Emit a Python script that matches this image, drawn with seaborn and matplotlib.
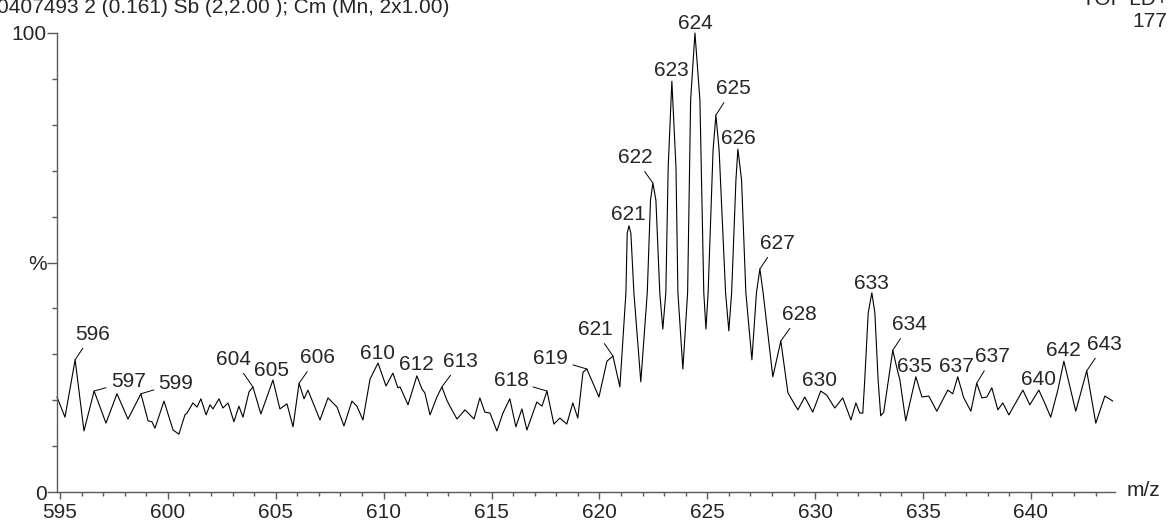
import numpy as np
import matplotlib
matplotlib.use("Agg")
import matplotlib.pyplot as plt
from matplotlib.ticker import MultipleLocator, FixedLocator
import seaborn as sns

# spectrum trace (m/z, % intensity)
mz = [
    594.86, 595.23, 595.70, 596.11, 596.58, 597.13, 597.64, 598.15, 598.75, 599.08,
    599.26, 599.40, 599.82, 600.24, 600.51, 600.79, 600.89, 601.16, 601.35, 601.53,
    601.77, 601.95, 602.09, 602.37, 602.55, 602.79, 603.06, 603.29, 603.48, 603.76,
    603.94, 604.31, 604.87, 605.19, 605.52, 605.80, 606.08, 606.31, 606.49, 607.05,
    607.42, 607.84, 608.16, 608.53, 608.76, 609.04, 609.37, 609.74, 610.11, 610.43,
    610.66, 610.76, 611.13, 611.54, 611.78, 611.91, 612.15, 612.47, 612.70, 612.93,
    613.07, 613.40, 613.77, 614.00, 614.19, 614.46, 614.69, 614.93, 615.25, 615.53,
    615.85, 616.13, 616.41, 616.64, 617.10, 617.34, 617.57, 617.89, 618.17, 618.49,
    618.77, 619.00, 619.24, 619.42, 619.98, 620.35, 620.63, 620.95,
    621.23, 621.29, 621.37, 621.46, 621.60, 621.92,
    622.22, 622.37, 622.48, 622.62, 622.80, 622.94,
    623.08, 623.19, 623.36, 623.55, 623.64, 623.87,
    624.09, 624.23, 624.43, 624.66, 624.84, 624.94,
    625.04, 625.27, 625.40, 625.55, 625.85, 626.00,
    626.13, 626.33, 626.42, 626.59, 626.79, 627.07,
    627.28, 627.44, 627.59, 628.04,
    628.41, 628.74, 629.20, 629.52, 629.89, 630.26, 630.54, 630.91, 631.28, 631.66,
    631.89, 632.07, 632.21, 632.30, 632.46, 632.63, 632.77, 632.92, 633.04, 633.18,
    633.60, 633.79, 633.93, 634.20, 634.67, 634.95, 635.27, 635.64, 636.15, 636.38,
    636.61, 636.89, 637.22, 637.49, 637.73, 637.96, 638.19, 638.47, 638.70, 638.98,
    639.16, 639.63, 639.95, 640.37, 640.64, 640.92, 641.25, 641.53, 642.08, 642.59,
    643.01, 643.43, 643.80,
]
intensity = [
    20.7, 16.3, 28.8, 13.3, 22.0, 15.0, 21.4, 15.9, 21.4, 15.5,
    15.3, 13.9, 19.8, 13.5, 12.6, 16.8, 17.2, 19.4, 18.5, 20.3,
    16.8, 19.0, 18.1, 20.3, 18.3, 19.4, 15.3, 18.7, 16.3, 21.8,
    22.9, 17.0, 24.4, 18.1, 19.2, 14.2, 23.7, 20.3, 22.2, 15.7,
    20.5, 18.5, 14.4, 19.8, 18.7, 15.7, 24.6, 28.1, 23.1, 25.9,
    22.7, 22.9, 19.0, 25.3, 22.4, 21.6, 16.8, 20.7, 22.9, 20.0,
    18.7, 15.9, 17.9, 16.8, 15.9, 20.5, 17.4, 17.2, 13.3, 17.2,
    20.3, 14.2, 18.1, 13.5, 19.6, 18.7, 22.0, 14.8, 16.1, 14.8,
    19.4, 16.1, 26.1, 26.8, 20.7, 28.5, 29.6, 22.9,
    43.4, 56.4, 58.0, 56.4, 43.4, 24.0,
    43.4, 63.6, 67.3, 63.6, 43.4, 35.5,
    43.4, 70.8, 89.5, 70.8, 43.4, 26.8,
    43.4, 85.4, 100.0, 85.4, 43.4, 35.5,
    43.4, 74.5, 82.1, 74.5, 43.4, 35.1,
    43.4, 68.0, 74.7, 68.0, 43.4, 28.8,
    43.4, 48.6, 43.4, 25.1,
    32.9, 21.6, 17.9, 20.7, 17.4, 22.0, 21.1, 18.3, 20.5, 15.7,
    19.4, 17.2, 17.2, 24.4, 39.0, 43.4, 39.0, 24.4, 16.6, 17.4,
    30.9, 27.0, 24.4, 15.5, 25.1, 20.7, 20.9, 17.6, 22.2, 21.4,
    25.1, 20.5, 17.6, 23.7, 20.5, 20.7, 22.7, 17.9, 19.4, 16.8,
    18.3, 22.2, 19.0, 22.2, 19.4, 16.3, 22.2, 28.5, 17.6, 26.4,
    15.0, 20.9, 19.8,
]

# labelled peaks
peak_labels = ['596', '597', '599', '604', '605', '606', '610', '612', '613', '618',
               '619', '621', '621', '622', '623', '624', '625', '626', '627', '628',
               '630', '633', '634', '635', '637', '637', '640', '642', '643']
peak_mz = [595.70, 596.58, 598.75, 603.94, 604.87, 606.08, 609.74, 611.54, 612.70, 617.57,
           619.42, 620.63, 621.37, 622.48, 623.36, 624.43, 625.40, 626.42, 627.44, 628.41,
           630.26, 632.63, 633.60, 634.67, 636.61, 637.49, 640.37, 641.53, 642.59]
peak_int = [28.8, 22.0, 21.4, 22.9, 24.4, 23.7, 28.1, 25.3, 22.9, 22.0,
            26.8, 29.6, 58.0, 67.3, 89.5, 100.0, 82.1, 74.7, 48.6, 32.9,
            22.0, 43.4, 30.9, 25.1, 25.1, 23.7, 22.2, 28.5, 26.4]

header_left = "0407493 2 (0.161) Sb (2,2.00 ); Cm (Mn, 2x1.00)"
header_right = "TOF LD+"
header_count = "177"

# label placement (pixels from the peak) and whether a leader line is drawn
label_offsets = [(17, 27), (34, 11), (35, 12), (-19, 29), (-1, 11), (18, 27), (-1, 11), (0, 13), (19, 27), (-36, 12),
                 (-36, 12), (-18, 28), (-1, 13), (-18, 27), (0, 12), (0, 11), (17, 28), (0, 12), (17, 27), (19, 28),
                 (-1, 12), (0, 11), (17, 27), (-1, 12), (-1, 12), (16, 28), (0, 12), (0, 12), (18, 28)]
leaders = [1, 1, 1, 1, 0, 1, 0, 0, 1, 1,
           1, 1, 0, 1, 0, 0, 1, 0, 1, 1,
           0, 0, 1, 0, 0, 1, 0, 0, 1]

sns.set_style("ticks")
plt.rcParams['font.family'] = ['Liberation Sans', 'DejaVu Sans']
FS = 15
AX = '#5a5a5a'

W, H = 1168, 525
fig = plt.figure(figsize=(W / 100, H / 100), dpi=100)
ax = fig.add_axes([57 / W, 1 - 492 / H, (1115 - 57) / W, (492 - 33) / H])

sns.lineplot(x=mz, y=intensity, ax=ax, sort=False, estimator=None,
             color='black', linewidth=0.8)
for ln in ax.lines:
    ln.set_clip_on(False)

ax.set_xlim(594.86, 643.9)
ax.set_ylim(0, 100)
sns.despine(ax=ax, top=True, right=True)
for s in ('left', 'bottom'):
    ax.spines[s].set_color(AX)
    ax.spines[s].set_linewidth(1.0)

ax.xaxis.set_major_locator(FixedLocator([595, 600, 605, 610, 615, 620, 625, 630, 635, 640]))
ax.xaxis.set_minor_locator(MultipleLocator(1))
ax.set_yticks([0, 50, 100])
ax.set_yticklabels(['0', '%', '100'])
ax.yaxis.set_minor_locator(MultipleLocator(10))
ax.tick_params(axis='x', which='major', length=5, width=1, color=AX, pad=3, labelsize=FS)
ax.tick_params(axis='x', which='minor', length=2.8, width=1, color=AX)
ax.tick_params(axis='y', which='major', length=7, width=1, color=AX, pad=0.5, labelsize=FS)
ax.tick_params(axis='y', which='minor', length=3.5, width=1, color=AX)
ax.set_xlabel('')
ax.set_ylabel('')

for lab, x, y, (dx, dy), ld in zip(peak_labels, peak_mz, peak_int, label_offsets, leaders):
    props = None
    if ld:
        props = dict(arrowstyle='-', color='black', lw=0.7, shrinkA=1, shrinkB=0)
    ax.annotate(lab, xy=(x, y), xytext=(dx, dy - 7), textcoords='offset pixels',
                ha='center', va='baseline', fontsize=FS, arrowprops=props,
                annotation_clip=False)

fig.text(1127 / W, 1 - 491 / H, 'm/z', ha='left', va='center', fontsize=FS)
fig.text(-3 / W, 1 - 13 / H, header_left, ha='left', va='baseline', fontsize=FS)
fig.text(1.0, 1 - 5 / H, header_right, ha='right', va='baseline', fontsize=FS)
fig.text(1167 / W, 1 - 27 / H, header_count, ha='right', va='baseline', fontsize=FS)

fig.savefig('out.png', dpi=100)
